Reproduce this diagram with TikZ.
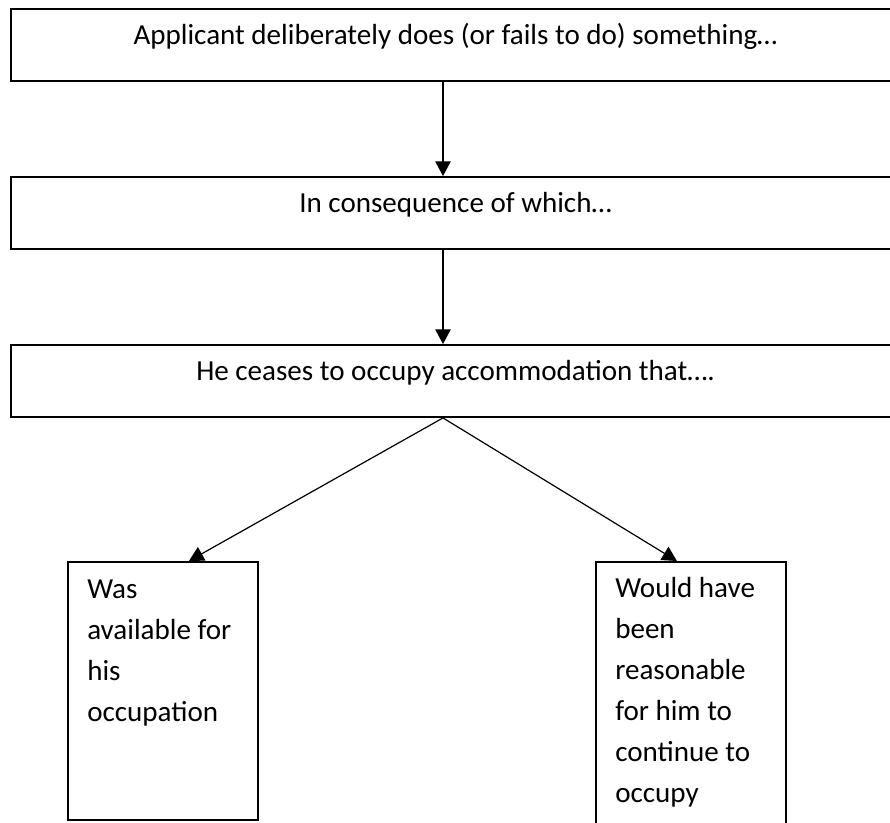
\documentclass[tikz,border=0pt]{standalone}
\usepackage{fontspec}
\setmainfont{Carlito}
\usetikzlibrary{arrows.meta,calc,positioning}

\begin{document}
\begin{tikzpicture}[x=0.75pt,y=-0.75pt,font=\fontsize{21.8}{30.75}\selectfont,
	box/.style={draw,line width=1.4pt,inner sep=0pt},
	wide/.style={box,minimum width=666.75pt,minimum height=54pt,text height=14pt,text depth=14pt},
	tall/.style={box,anchor=north west,minimum width=142.5pt,minimum height=#1},
	txt/.style={anchor=base west,align=left,inner sep=0pt},
	arr/.style={-{Triangle[length=11pt,width=11.5pt]},line width=0.9pt}]
	\clip (0,0) rectangle (890,823);
	% Knoten
		\node (1) at (455.5,45)  [wide] {Applicant deliberately does (or fails to do) something…};
		\node (2) at (455.5,213) [wide] {In consequence of which…};
		\node (3) at (455.5,381) [wide] {He ceases to occupy accommodation that….};
		\node (4) at (67,561)  [tall=193.5pt] {};
		\node (5) at (595,561) [tall=240pt] {};
		\node (4t) at (87,721)  [txt] {Was\\available for\\his\\occupation};
		\node (5t) at (615,802) [txt] {Would have\\been\\reasonable\\for him to\\continue to\\occupy};
	% Kanten
		\draw[arr] ([xshift=-9.375pt]1.south) -- ([xshift=-9.375pt]2.north);
		\draw[arr] ([xshift=-9.375pt]2.south) -- ([xshift=-9.375pt]3.north);
		\draw[arr] ([xshift=-9.375pt]3.south) -- ([xshift=19.5pt]4.north);
		\draw[arr] ([xshift=-9.375pt]3.south) -- ([xshift=-10.5pt]5.north);
\end{tikzpicture}
\end{document}
